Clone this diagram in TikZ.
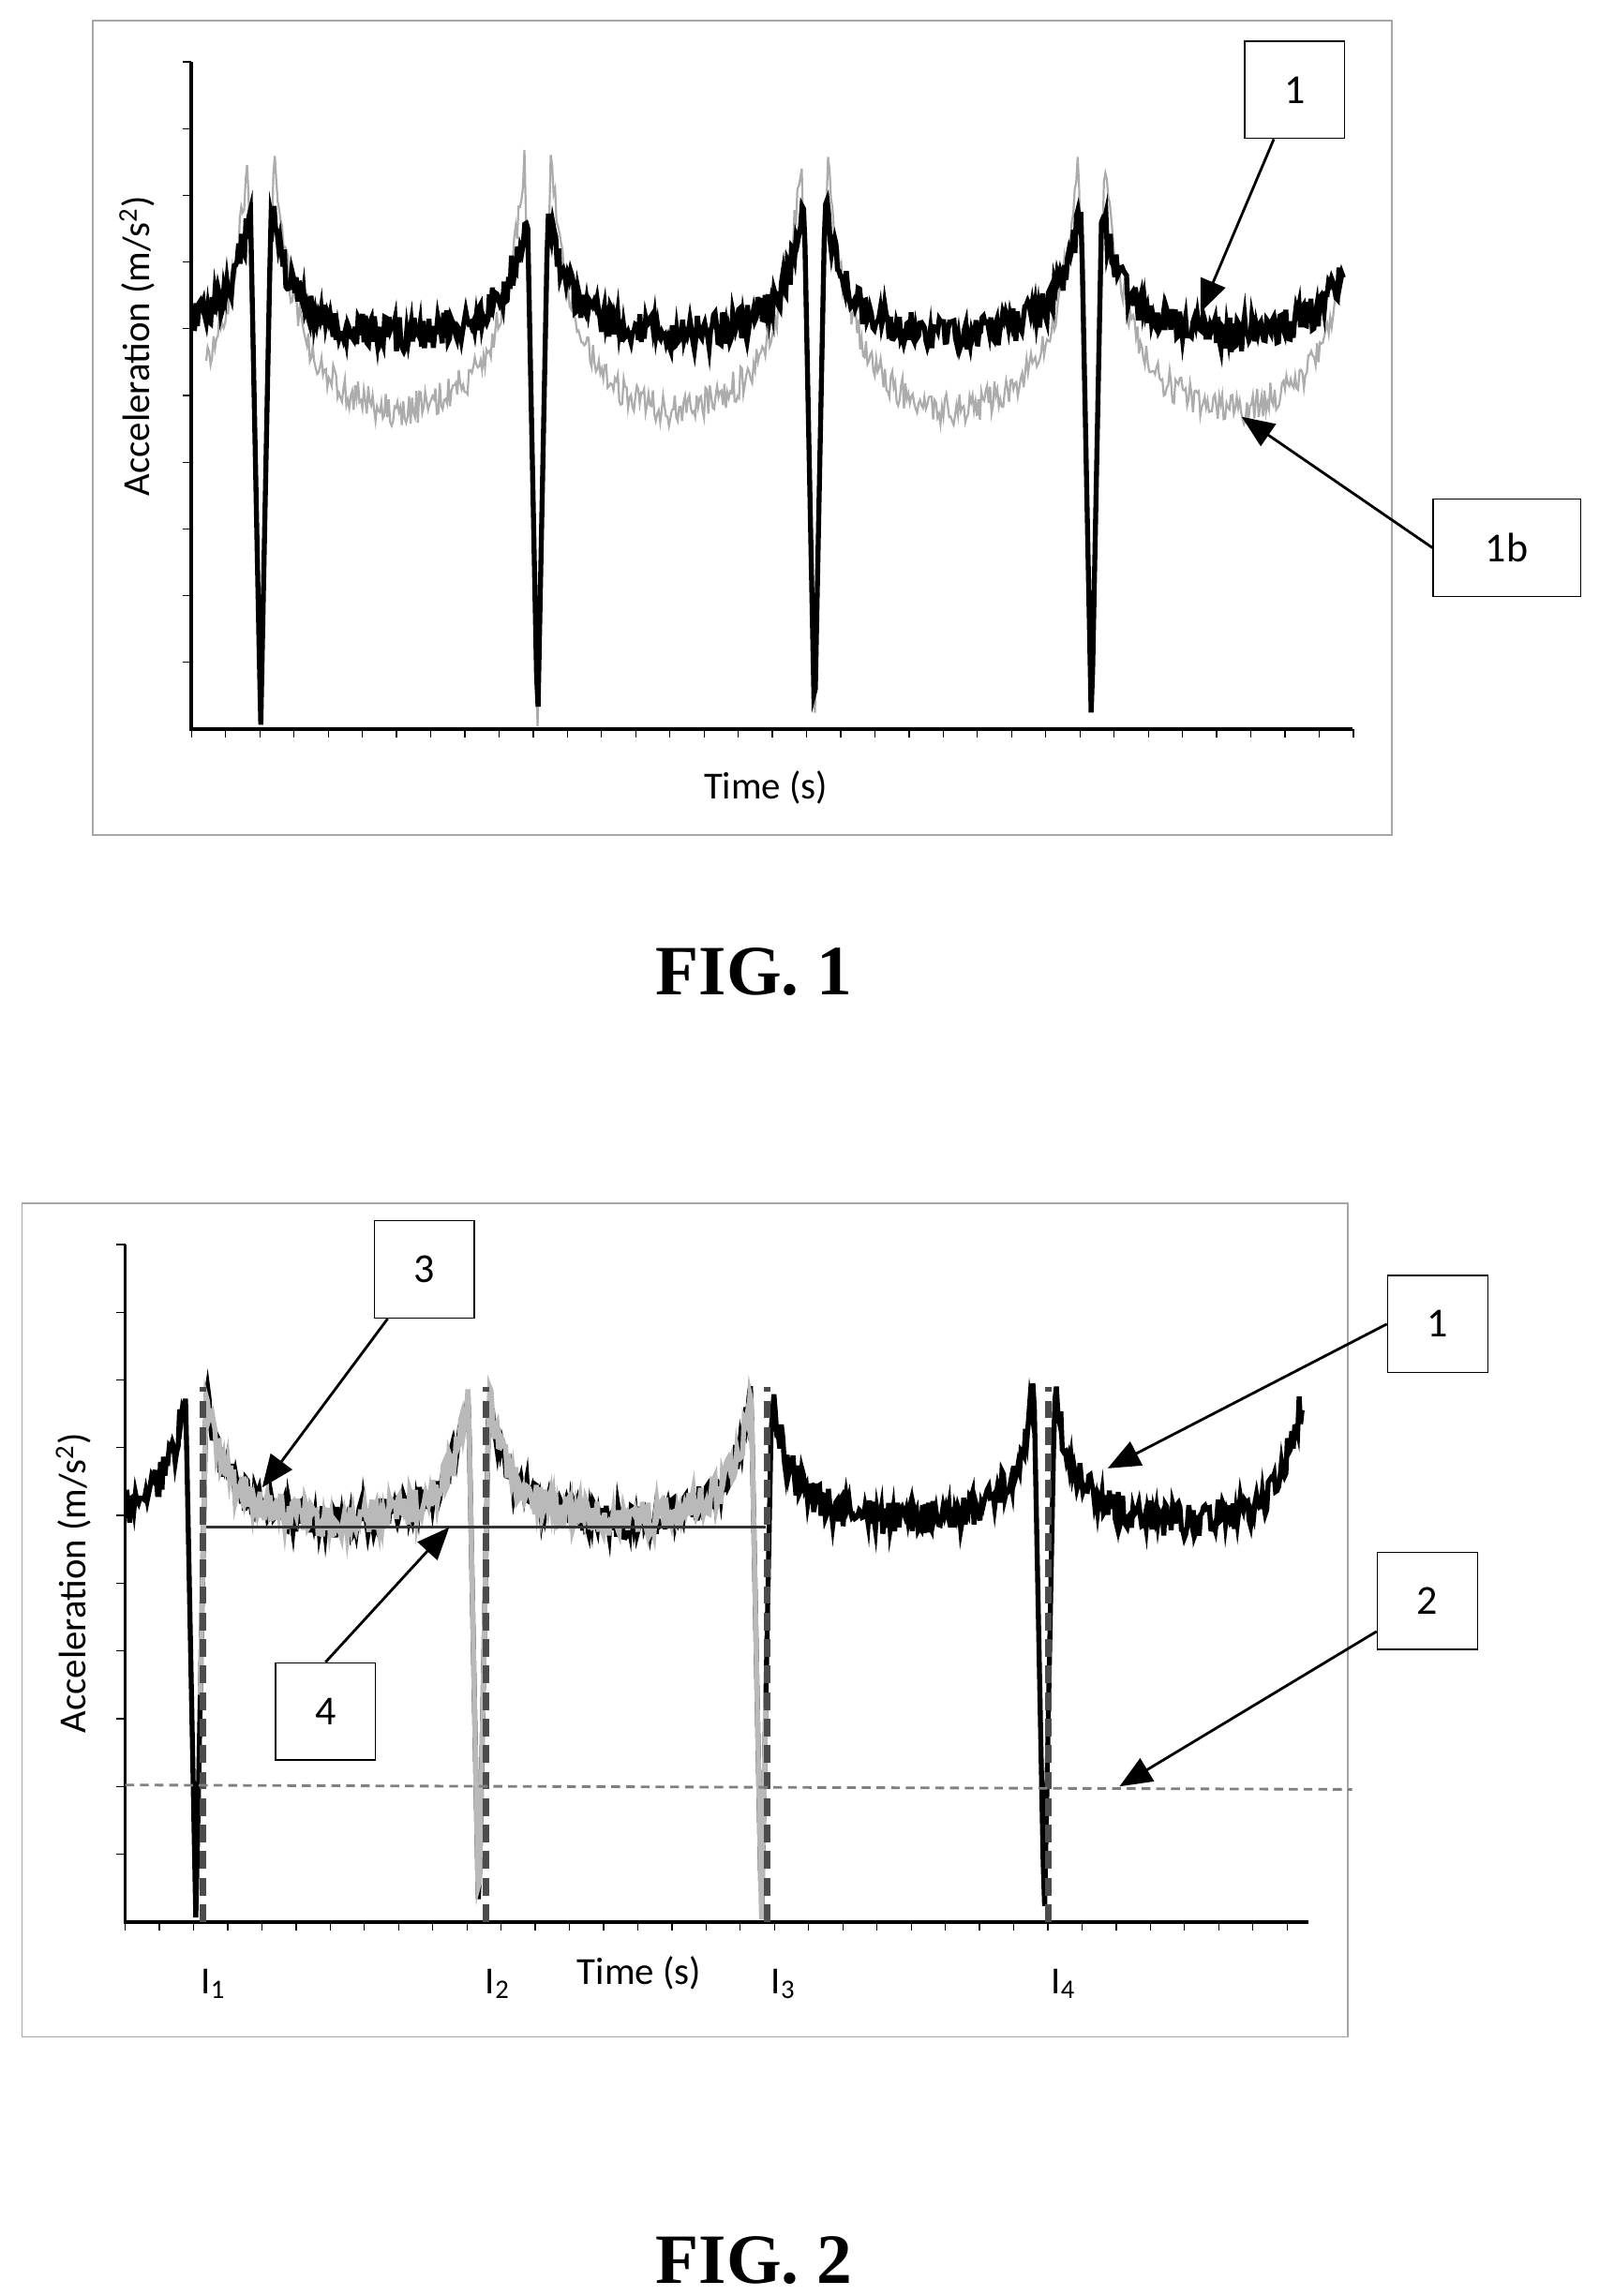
\documentclass[tikz,border=0pt]{standalone}
\usepackage{fontspec}
\setmainfont{Carlito}
\newfontfamily\figfont{Liberation Serif}
\usetikzlibrary{arrows.meta}
\begin{document}
\begin{tikzpicture}[x=0.5pt,y=-0.5pt,
  lbl/.style={draw,thin,fill=white,minimum width=34pt,minimum height=33pt,font=\fontsize{14}{14}\selectfont},
  arr/.style={-{Triangle[length=11pt,width=9pt]},line width=0.9pt},
  frm/.style={draw=gray!70,thin},
  declare function={
    pa(\x)=(\x-177)-188*floor((\x-177)/188); da(\x)=min(pa(\x),188-pa(\x));
    fb(\x)=(da(\x)<7)*(495-50.7*da(\x)) + (da(\x)>=7)*(232-95/((1+(da(\x)-7)/25)^2));
    fg(\x)=(da(\x)<9)*(495-43.9*da(\x)) + (da(\x)>=9)*(292-185/((1+(da(\x)-9)/30)^2));
    pc(\x)=(\x-133)-192*floor((\x-133)/192); dc(\x)=min(pc(\x),192-pc(\x));
    fc(\x)=(dc(\x)<7)*(1305-51.4*dc(\x)) + (dc(\x)>=7)*(1037-92/((1+(dc(\x)-7)/25)^2));
  }]
\pgfmathsetseed{7}
\useasboundingbox (0,0) rectangle (1085,1559);
% ---------- FIG 1
\draw[frm] (63,14) rectangle (945,567);
\draw[line width=1.2pt] (130,42) -- (130,495) -- (918,495);
\foreach \k in {0,...,9} \draw (124,{42+\k*45.3}) -- (130,{42+\k*45.3});
\foreach \k in {0,...,34} \draw ({130+\k*23.2},495) -- ({130+\k*23.2},501);
\draw[gray!65,line width=0.7pt] plot[domain=140:912,samples=780] (\x,{fg(\x)+(da(\x)>9)*rand*11});
\draw[black,line width=1.7pt] plot[domain=132:912,samples=780] (\x,{fb(\x)+(da(\x)>7)*rand*12});
\node[rotate=90,font=\fontsize{13}{13}\selectfont] (ya) at (93,235) {Acceleration (m/s\textsuperscript{2})};
\node[font=\fontsize{13}{13}\selectfont] (xa) at (520,535) {Time (s)};
\node[lbl] (b1) at (879,61) {1};
\node[lbl,minimum width=50pt] (b1b) at (1023,372) {1b};
\coordinate (t1) at (815,212);
\coordinate (t1b) at (843,283);
\draw[arr] (b1) -- (t1);
\draw[arr] (b1b.west) -- (t1b);
\node[font=\figfont\bfseries\fontsize{24}{24}\selectfont] (f1) at (512,660) {FIG. 1};
% ---------- FIG 2
\draw[frm] (15,817) rectangle (915,1383);
\draw[line width=1.2pt] (85,845) -- (85,1305) -- (888,1305);
\foreach \k in {0,...,9} \draw (79,{845+\k*46}) -- (85,{845+\k*46});
\foreach \k in {0,...,34} \draw ({85+\k*23.2},1305) -- ({85+\k*23.2},1311);
\draw[black,line width=1.7pt] plot[domain=86:884,samples=800] (\x,{fc(\x)+(dc(\x)>7)*rand*12-(\x>860)*(\x-860)*1.6});
\draw[gray!55,line width=1.7pt] plot[domain=136:520,samples=390] (\x,{fc(\x)+(dc(\x)>7)*rand*12});
\foreach \xx in {138,330,521,712} \draw[gray!60!black,dash pattern=on 6pt off 3pt,line width=2.2pt] (\xx,1305) -- (\xx,942);
\draw[gray!40!black,line width=0.8pt] (140,1037) -- (520,1037);
\draw[gray,densely dashed,line width=0.9pt] (85,1212) -- (918,1215);
\node[rotate=90,font=\fontsize{13}{13}\selectfont] (ya2) at (50,1075) {Acceleration (m/s\textsuperscript{2})};
\node[font=\fontsize{13}{13}\selectfont] (xa2) at (434,1340) {Time (s)};
\foreach \xx/\i in {145/1,338/2,532/3,722/4}
  \node[font=\fontsize{13}{13}\selectfont] (I\i) at (\xx,1347) {I\textsubscript{\i}};
\node[lbl] (b3) at (288,862) {3};
\node[lbl] (b12) at (976,899) {1};
\node[lbl] (b4) at (221,1162) {4};
\node[lbl] (b2) at (969,1087) {2};
\coordinate (t3) at (178,1010);
\coordinate (t12) at (752,997);
\coordinate (t4) at (305,1037);
\coordinate (t2) at (760,1213);
\draw[arr] (b3) -- (t3);
\draw[arr] (b12.west) -- (t12);
\draw[arr] (b4.north) -- (t4);
\draw[arr] (b2) -- (t2);
\node[font=\figfont\bfseries\fontsize{24}{24}\selectfont] (f2) at (512,1535) {FIG. 2};
\end{tikzpicture}
\end{document}
